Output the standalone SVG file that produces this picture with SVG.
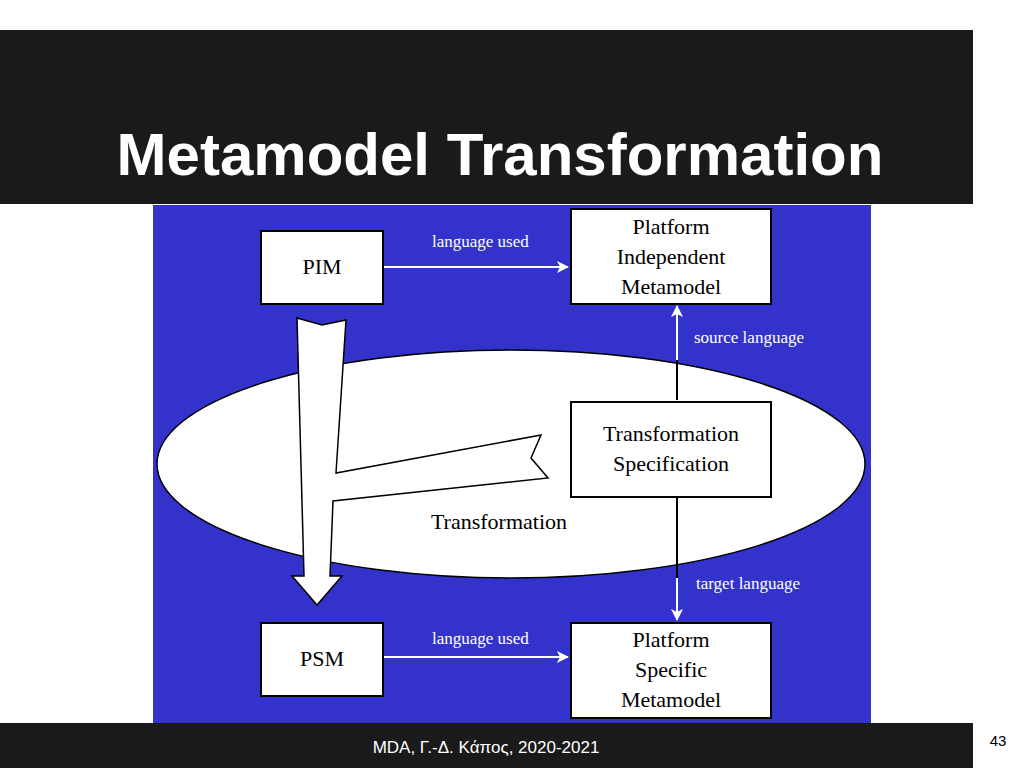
<svg xmlns="http://www.w3.org/2000/svg" width="1024" height="768" viewBox="0 0 1024 768">
<style>
.box{fill:#fff;stroke:#000;stroke-width:2}
.t{font-family:"Liberation Serif",serif;font-size:22px;fill:#000;text-anchor:middle}
.l{font-family:"Liberation Serif",serif;font-size:17px;fill:#fff}
.c{stroke:#fff;stroke-width:2;fill:none}
</style>
<defs>
<marker id="a" viewBox="0 0 12 12" refX="11" refY="6" markerWidth="12" markerHeight="12" markerUnits="userSpaceOnUse" orient="auto"><path d="M0,0 L12,6 L0,12 L3,6 Z" fill="#fff"/></marker>
</defs>
<rect width="1024" height="768" fill="#fff"/>
<rect x="0" y="30" width="973" height="174" fill="#1a1a1a"/>
<text x="500" y="175" font-family="Liberation Sans,Arial,sans-serif" font-weight="bold" font-size="60" fill="#fff" text-anchor="middle">Metamodel Transformation</text>
<rect x="153" y="205" width="718" height="518" fill="#3333cc"/>
<g id="transformation">
<ellipse cx="511" cy="464" rx="354" ry="114" fill="#fff" stroke="#000" stroke-width="1.5"/>
<path d="M297,318 L322,325 L346,320 L336,473 L541,435 L531,458 L548,478 L333,501 L330,576 L342,576 L317,605 L292,576 L304,576 Z" fill="#fff" stroke="#000" stroke-width="1.5"/>
<text class="t" x="499" y="529">Transformation</text>
</g>
<g id="connectors">
<line class="c" x1="384" y1="267" x2="568" y2="267" marker-end="url(#a)"/>
<line class="c" x1="384" y1="657" x2="568" y2="657" marker-end="url(#a)"/>
<line x1="677" y1="400" x2="677" y2="306" stroke="#000" stroke-width="2"/>
<line class="c" x1="677" y1="360" x2="677" y2="306" marker-end="url(#a)"/>
<line x1="677" y1="497" x2="677" y2="620" stroke="#000" stroke-width="2"/>
<line class="c" x1="677" y1="578" x2="677" y2="620" marker-end="url(#a)"/>
<text class="l" x="432" y="247">language used</text>
<text class="l" x="432" y="644">language used</text>
<text class="l" x="694" y="343">source language</text>
<text class="l" x="696" y="589">target language</text>
</g>
<g id="pim"><rect class="box" x="261" y="231" width="122" height="73"/><text class="t" x="322" y="274">PIM</text></g>
<g id="psm"><rect class="box" x="261" y="623" width="122" height="73"/><text class="t" x="322" y="666">PSM</text></g>
<g id="pimm"><rect class="box" x="571" y="209" width="200" height="95"/><text class="t" x="671" y="234">Platform</text><text class="t" x="671" y="264">Independent</text><text class="t" x="671" y="294">Metamodel</text></g>
<g id="ts"><rect class="box" x="571" y="402" width="200" height="95"/><text class="t" x="671" y="441">Transformation</text><text class="t" x="671" y="471">Specification</text></g>
<g id="psmm"><rect class="box" x="571" y="623" width="200" height="95"/><text class="t" x="671" y="647">Platform</text><text class="t" x="671" y="677">Specific</text><text class="t" x="671" y="707">Metamodel</text></g>
<rect x="0" y="723" width="973" height="45" fill="#1a1a1a"/>
<text x="486" y="753" font-family="Liberation Sans,Arial,sans-serif" font-size="17" fill="#fff" text-anchor="middle">MDA, Γ.-Δ. Κάπος, 2020-2021</text>
<text x="998" y="746" font-family="Liberation Sans,Arial,sans-serif" font-size="15" fill="#000" text-anchor="middle">43</text>
</svg>
